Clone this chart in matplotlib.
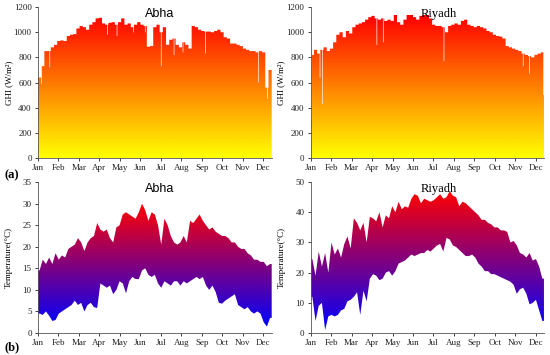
import numpy as np
import matplotlib
matplotlib.use("Agg")
import matplotlib.pyplot as plt
from matplotlib.colors import LinearSegmentedColormap
from matplotlib.patches import PathPatch

# 5-day bins over the year (73 bins)
ghi_abha = [640, 730, 850, 850, 880, 900, 930, 935, 930, 970, 980, 985, 1030, 1050, 1040,
            1020, 1060, 1080, 1110, 1115, 1070, 1060, 1075, 1080, 1060, 1080, 1110, 1060, 1070,
            1040, 1060, 1080, 1060, 1050, 885, 890, 1040, 1060, 1000, 1040, 900, 940, 950, 900,
            880, 920, 900, 870, 1050, 1040, 1020, 1010, 1005, 1005, 1000, 1010, 1020, 1000, 960,
            950, 910, 910, 900, 890, 870, 860, 850, 850, 840, 850, 840, 560, 700]
ghi_riyadh = [820, 860, 830, 860, 880, 850, 870, 920, 980, 1000, 960, 1010, 990, 1040, 1060,
              1070, 1080, 1100, 1120, 1130, 1110, 1100, 1110, 1090, 1100, 1090, 1160, 1080, 1060,
              1100, 1155, 1150, 1120, 1100, 1130, 1140, 1150, 1110, 1060, 1050, 1050, 1040, 1000,
              1050, 1060, 1070, 1060, 1090, 1100, 1060, 1050, 1040, 1050, 1040, 1030, 1010, 1000,
              980, 970, 965, 950, 890, 880, 870, 860, 850, 830, 820, 810, 800, 820, 830, 840]
# single cloudy days (day of year, peak GHI)
dips_abha_day = [5, 18, 108, 123, 149, 167, 192, 212, 226, 261, 344, 358]
dips_abha_val = [590, 720, 980, 970, 1000, 1000, 730, 820, 840, 830, 600, 470]
dips_riyadh_day = [1, 14, 18, 103, 113, 208, 332, 342, 364]
dips_riyadh_val = [300, 640, 430, 900, 920, 770, 730, 670, 500]

tmax_abha = [14.5, 17, 16, 17.5, 16, 18.5, 17, 18, 17.5, 19.5, 20, 20.5, 22, 21, 19, 21, 22,
             22.5, 25.5, 24, 23.5, 24, 22, 21, 24.5, 25, 27.5, 28, 27.5, 27, 26.5, 28, 30, 28.5,
             26, 28, 27.5, 25, 20.5, 26.5, 25, 22.5, 21, 20.5, 21, 22.5, 21, 26, 25.5, 26.5, 27.5,
             26, 25, 24, 24.5, 23.5, 23, 22.5, 22.5, 22, 21, 21, 20, 19.5, 19.5, 18.5, 18, 17, 17,
             16.5, 16.5, 15.5, 16]
tmin_abha = [4.5, 4.2, 5, 4, 2.8, 3, 4.5, 5, 5.5, 6, 6.5, 7.5, 6.5, 7, 5, 6.5, 7, 6, 5.8, 11.5,
             11, 10.5, 11, 9, 10, 12, 11.5, 9.2, 12, 13, 12.5, 12.5, 14.5, 15, 13.5, 13, 13.5, 11.5,
             10.5, 12, 11.5, 11, 12, 12, 11, 12, 11.5, 12, 12.5, 13, 12.5, 13, 11, 10, 11, 9.5, 7,
             6.8, 7.5, 8, 8.5, 9, 6.5, 6, 5.5, 6, 5, 4.5, 5, 4.5, 2.5, 1.5, 3.5]
tmax_riyadh = [24.5, 19, 27, 22, 26.5, 20, 30, 26, 28, 25, 29.5, 32, 28, 38, 36.5, 34, 36.5, 30,
               38.5, 38, 37, 40, 35, 39, 38, 42, 40, 43.5, 41, 42, 41.5, 44.5, 46, 45.5, 43, 44.5,
               44, 43.5, 44, 45, 46, 44.5, 45, 47, 45.5, 45, 42, 43.5, 43, 42, 41, 40, 39, 37.5,
               37.5, 36.5, 36, 35, 35, 34, 34, 33.5, 30, 30.5, 29, 26.5, 26, 25, 26.5, 24, 24.5,
               22, 18]
tmin_riyadh = [12, 4, 9, 10, 1, 5.5, 6, 5.5, 6, 7.5, 8, 10.5, 11, 12, 13.5, 6, 14, 10.5, 18, 19.5,
               19, 17.5, 18, 20, 20.5, 19, 20.5, 23, 23.5, 24, 25, 26, 25.5, 26, 26.5, 26.5, 27.5,
               27, 28, 29, 29.5, 27, 31.5, 31, 29, 28.5, 27.5, 26.5, 25.5, 25.5, 26, 25, 23, 22,
               20.5, 20.5, 19.5, 19.5, 19, 18.5, 18, 17.5, 17, 16, 13, 14.5, 15, 13, 9.5, 10, 11,
               7.5, 4]

months = ["Jan", "Feb", "Mar", "Apr", "May", "Jun", "Jul", "Aug", "Sep", "Oct", "Nov", "Dec"]
tick_days = np.arange(12) * 32

serif = "Liberation Serif"
sans = "Liberation Sans"
bt_cmap = LinearSegmentedColormap.from_list("bt", ["#0000ff", "#ff0000"])


def daily(bins, dip_days=(), dip_vals=()):
    d = np.repeat(np.asarray(bins, dtype=float), 5)
    for day, v in zip(dip_days, dip_vals):
        d[day] = v
    return d


def clip_gradient(ax, coll, cmap, vmin, vmax):
    patch = PathPatch(coll.get_paths()[0], transform=ax.transData,
                      facecolor="none", edgecolor="none")
    ax.add_patch(patch)
    grad = np.linspace(vmin, vmax, 256).reshape(-1, 1)
    im = ax.imshow(grad, extent=[0, 365, vmin, vmax], origin="lower", aspect="auto",
                   cmap=cmap, vmin=vmin, vmax=vmax, interpolation="bilinear")
    im.set_clip_path(patch)


def ghi_fill(ax, peak):
    days = np.arange(len(peak) + 1)
    hi = np.append(peak, peak[-1])
    coll = ax.fill_between(days, 0, hi, step="post", facecolor="none", edgecolor="none")
    clip_gradient(ax, coll, "autumn_r", 0, 1130)


def temp_fill(ax, tmin, tmax):
    # points at the middle of each 5-day bin, joined by straight segments
    x = np.concatenate([[0], np.arange(len(tmax)) * 5 + 2.5, [365]])
    lo = np.concatenate([[tmin[0]], tmin, [tmin[-1]]])
    hi = np.concatenate([[tmax[0]], tmax, [tmax[-1]]])
    coll = ax.fill_between(x, lo, hi, facecolor="none", edgecolor="none")
    clip_gradient(ax, coll, bt_cmap, min(tmin), max(tmax))


def style(ax, ylim, yticks, ylabel, title, tfont, tx):
    ax.set_xlim(0, 365)
    ax.set_ylim(*ylim)
    ax.set_xticks(tick_days)
    ax.set_xticklabels(months, fontfamily=serif, fontsize=6.5)
    ax.set_yticks(yticks)
    ax.set_yticklabels([str(v) for v in yticks], fontfamily=serif, fontsize=6.5)
    ax.tick_params(length=2.5, width=0.6, pad=2, colors="#222222")
    for s in ["top", "right"]:
        ax.spines[s].set_visible(False)
    for s in ["left", "bottom"]:
        ax.spines[s].set_linewidth(0.6)
        ax.spines[s].set_color("#555555")
    ax.set_ylabel(ylabel, fontfamily=serif, fontsize=6.5)
    ax.yaxis.set_label_coords(-0.108, 0.5)
    ax.text(tx, 0.955, title, transform=ax.transAxes, ha="center", va="center",
            fontfamily=tfont, fontsize=9)


fig = plt.figure(figsize=(5.5, 3.55), dpi=100)
ax1 = fig.add_axes([0.069, 0.555, 0.425, 0.425])
ax2 = fig.add_axes([0.565, 0.555, 0.424, 0.425])
ax3 = fig.add_axes([0.069, 0.062, 0.425, 0.425])
ax4 = fig.add_axes([0.565, 0.062, 0.424, 0.425])

ghi_fill(ax1, daily(ghi_abha, dips_abha_day, dips_abha_val))
ghi_fill(ax2, daily(ghi_riyadh, dips_riyadh_day, dips_riyadh_val))
temp_fill(ax3, tmin_abha, tmax_abha)
temp_fill(ax4, tmin_riyadh, tmax_riyadh)

ghi_label = "GHI (W/m\u00b2)"
style(ax1, (0, 1200), list(range(0, 1201, 200)), ghi_label, "Abha", sans, 0.52)
style(ax2, (0, 1200), list(range(0, 1201, 200)), ghi_label, "Riyadh", serif, 0.55)
style(ax3, (0, 35), list(range(0, 36, 5)), "Temperature(\u00b0C)", "Abha", sans, 0.52)
style(ax4, (0, 50), list(range(0, 51, 10)), "Temperature(\u00b0C)", "Riyadh", serif, 0.55)

fig.text(0.008, 0.505, "(a)", fontfamily=serif, fontsize=9, fontweight="bold", va="center")
fig.text(0.008, 0.022, "(b)", fontfamily=serif, fontsize=9, fontweight="bold", va="center")

fig.savefig("out.png", dpi=100)
